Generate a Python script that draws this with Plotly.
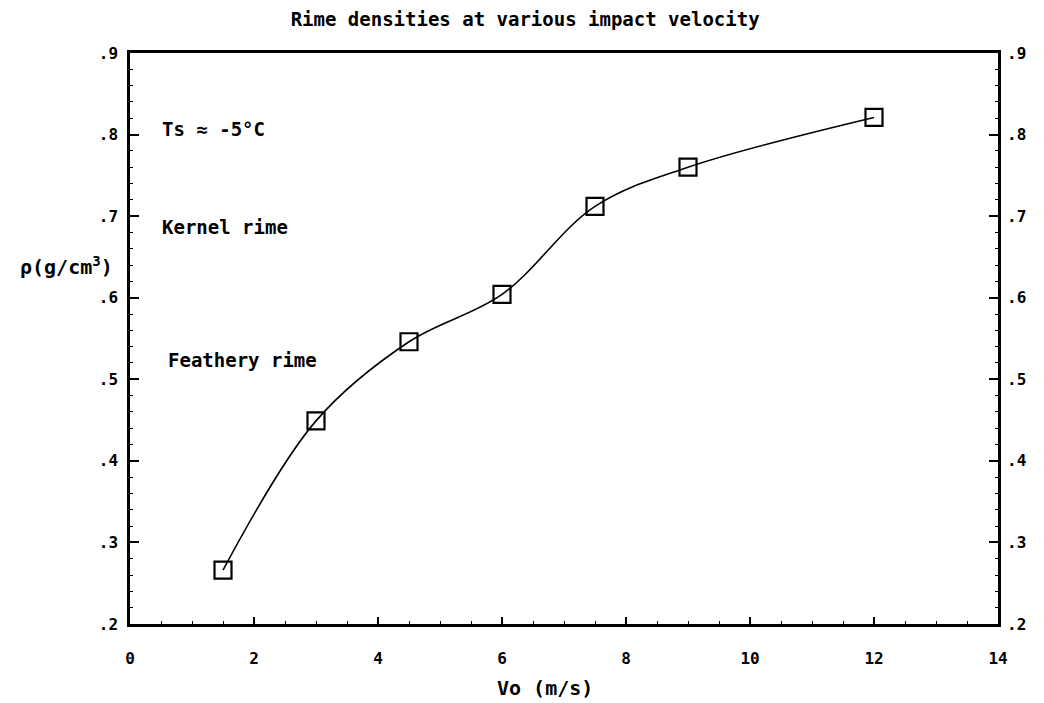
import plotly.graph_objects as go

velocity = [1.5, 3.0, 4.5, 6.0, 7.5, 9.0, 12.0]
density = [0.266, 0.449, 0.546, 0.604, 0.712, 0.760, 0.821]

x_ticks = [0, 2, 4, 6, 8, 10, 12, 14]
y_ticks = [0.2, 0.3, 0.4, 0.5, 0.6, 0.7, 0.8, 0.9]
y_tick_text = [".2", ".3", ".4", ".5", ".6", ".7", ".8", ".9"]

FONT = "DejaVu Sans Mono"

fig = go.Figure()
fig.add_trace(go.Scatter(
    x=velocity, y=density, mode="lines+markers",
    line=dict(color="black", width=1.6, shape="spline", smoothing=1.0),
    marker=dict(symbol="square-open", size=17, color="black", line=dict(width=2.2, color="black")),
    showlegend=False, hoverinfo="skip"))
# trace tied to the right axis (hidden marker)
fig.add_trace(go.Scatter(x=[velocity[0]], y=[density[0]], yaxis="y2", mode="markers",
                         marker=dict(opacity=0, size=1), showlegend=False, hoverinfo="skip"))

axis_font = dict(family=FONT, size=16, color="black", weight="bold")

fig.update_layout(
    width=1044, height=703,
    margin=dict(l=130, r=46, t=53, b=79),
    paper_bgcolor="white", plot_bgcolor="white",
    font=dict(family=FONT, color="black"),
    title=dict(text="Rime densities at various impact velocity", x=0.503, xanchor="center",
               y=0.973, yanchor="middle",
               font=dict(family=FONT, size=19, color="black", weight="bold")),
    xaxis=dict(range=[0, 14], tickvals=x_ticks, ticktext=[str(v) for v in x_ticks],
               showgrid=False, zeroline=False, showline=True, linecolor="black", linewidth=2.5,
               mirror=True, ticks="inside", ticklen=7, tickwidth=1.5, tickcolor="black",
               ticklabelstandoff=18,
               minor=dict(dtick=0.5, ticks="inside", ticklen=3, tickcolor="black", tickwidth=1.2),
               tickfont=axis_font),
    yaxis=dict(range=[0.2, 0.9], tickvals=y_ticks, ticktext=y_tick_text,
               showgrid=False, zeroline=False, showline=True, linecolor="black", linewidth=2.5,
               mirror=True, ticks="inside", ticklen=9, tickwidth=1.5, tickcolor="black",
               ticklabelstandoff=6,
               minor=dict(dtick=0.02, ticks="inside", ticklen=3, tickcolor="black", tickwidth=1.2),
               tickfont=axis_font),
    yaxis2=dict(range=[0.2, 0.9], tickvals=y_ticks, ticktext=y_tick_text, overlaying="y",
                side="right", showgrid=False, zeroline=False, showline=False,
                ticks="inside", ticklen=9, tickwidth=1.5, tickcolor="black",
                ticklabelstandoff=8,
                minor=dict(dtick=0.02, ticks="inside", ticklen=3, tickcolor="black", tickwidth=1.2),
                tickfont=axis_font),
)

ann_font = dict(family=FONT, size=19, color="black", weight="bold")
fig.add_annotation(text="Vo (m/s)", xref="paper", yref="paper", x=0.478, y=-0.112,
                   xanchor="center", yanchor="middle", showarrow=False,
                   font=dict(family=FONT, size=20, color="black", weight="bold"))
fig.add_annotation(text="ρ(g/cm<sup>3</sup>)", xref="paper", yref="paper", x=-0.017, y=0.627,
                   xanchor="right", yanchor="middle", showarrow=False,
                   font=dict(family=FONT, size=20, color="black", weight="bold"))
fig.add_annotation(text="Ts ≈ -5°C", xref="paper", yref="paper", x=0.035, y=0.867,
                   xanchor="left", yanchor="middle", showarrow=False, font=ann_font)
fig.add_annotation(text="Kernel rime", xref="paper", yref="paper", x=0.035, y=0.695,
                   xanchor="left", yanchor="middle", showarrow=False, font=ann_font)
fig.add_annotation(text="Feathery rime", xref="paper", yref="paper", x=0.041, y=0.462,
                   xanchor="left", yanchor="middle", showarrow=False, font=ann_font)

fig.write_html("out.html")
